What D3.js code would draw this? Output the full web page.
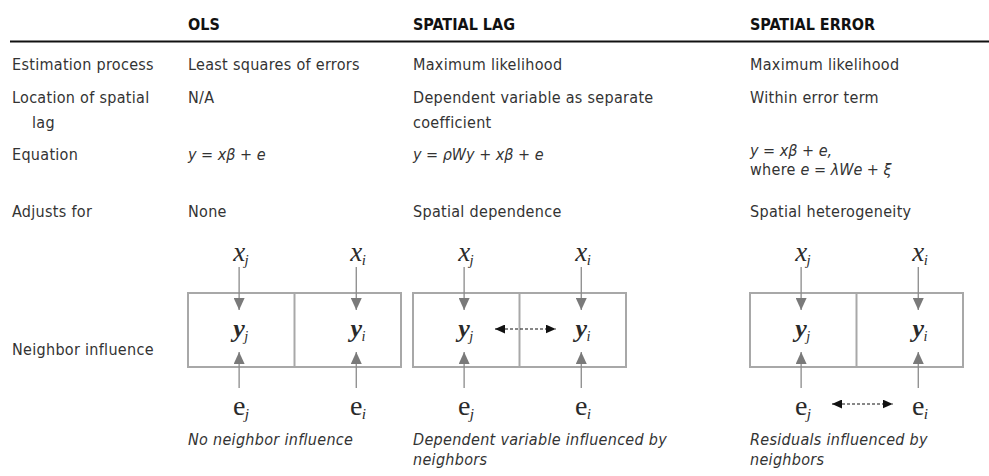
<!DOCTYPE html>
<html>
<head>
<meta charset="utf-8">
<script src="https://cdn.jsdelivr.net/npm/d3@7"></script>
<style>
  body { margin: 0; background: #fff; }
  svg { display: block; }
  .body-text { font-family: "DejaVu Sans Condensed", "DejaVu Sans", sans-serif; font-stretch: condensed; font-size: 16px; fill: #333; letter-spacing: 0.3px; }
  .head { font-family: "DejaVu Sans Condensed", "DejaVu Sans", sans-serif; font-stretch: condensed; font-weight: bold; font-size: 16px; fill: #111; }
  .math { font-family: "Liberation Serif", "DejaVu Serif", serif; font-style: italic; fill: #2a2a2a; }
</style>
</head>
<body>
<div id="chart"></div>
<script>
// table content
const models = ["OLS", "SPATIAL LAG", "SPATIAL ERROR"];
const rowLabels = [["Estimation process"], ["Location of spatial", "lag"], ["Equation"], ["Adjusts for"], ["Neighbor influence"]];
const estimation = ["Least squares of errors", "Maximum likelihood", "Maximum likelihood"];
const lagLocation = [["N/A"], ["Dependent variable as separate", "coefficient"], ["Within error term"]];
// equation lines: each segment [text, italic?]
const equations = [
  [[["y = x\u03B2 + e", true]]],
  [[["y = \u03C1Wy + x\u03B2 + e", true]]],
  [[["y = x\u03B2 + e,", true]], [["where ", false], ["e = \u03BBWe +  \u03BE", true]]]
];
const adjusts = ["None", "Spatial dependence", "Spatial heterogeneity"];
const linked = [null, "y", "e"]; // which pair of neighbours is connected
const captions = [["No neighbor influence"], ["Dependent variable influenced by", "neighbors"], ["Residuals influenced by", "neighbors"]];
const cells = [{ sub: "j" }, { sub: "i" }];

const width = 989, height = 476;

const svg = d3.select("#chart")
  .append("svg")
  .attr("width", width)
  .attr("height", height);

const defs = svg.append("defs");
function marker(id, color, len, wid) {
  defs.append("marker")
    .attr("id", id)
    .attr("markerUnits", "userSpaceOnUse")
    .attr("viewBox", `0 0 ${len} ${wid}`)
    .attr("refX", len)
    .attr("refY", wid / 2)
    .attr("markerWidth", len)
    .attr("markerHeight", wid)
    .attr("orient", "auto-start-reverse")
    .append("path")
    .attr("d", `M0,0L${len},${wid / 2}L0,${wid}Z`)
    .attr("fill", color);
}
marker("grayHead", "#7a7a7a", 12, 11);
marker("blackHead", "#111", 10, 9);

// column / row positions
const colX = d3.scaleOrdinal().domain(models).range([188, 413, 750]);
const labelX = 12;
const rowY = d3.scaleOrdinal()
  .domain(["head", "est", "loc", "eq", "adj", "nb"])
  .range([30, 70, 103, 160, 217, 355]);
const lineH = 25;

// header
svg.append("g")
  .selectAll("text")
  .data(models)
  .join("text")
  .attr("class", "head")
  .attr("x", (d) => colX(d))
  .attr("y", rowY("head"))
  .text((d) => d);

svg.append("line")
  .attr("x1", 10)
  .attr("x2", width)
  .attr("y1", 41.5)
  .attr("y2", 41.5)
  .attr("stroke", "#111")
  .attr("stroke-width", 2);

// multi-line helper
function lines(sel, arr, x, y, lh, indent) {
  arr.forEach((t, i) => {
    sel.append("text")
      .attr("class", "body-text")
      .attr("x", x + (i > 0 ? indent : 0))
      .attr("y", y + i * lh)
      .text(t);
  });
}

// row labels
const labelKeys = ["est", "loc", "eq", "adj", "nb"];
const labels = svg.append("g");
rowLabels.forEach((arr, i) => lines(labels, arr, labelX, rowY(labelKeys[i]), lineH, 20));

// simple rows
const body = svg.append("g");
models.forEach((m, i) => {
  lines(body, [estimation[i]], colX(m), rowY("est"), lineH, 0);
  lines(body, lagLocation[i], colX(m), rowY("loc"), lineH, 0);
  lines(body, [adjusts[i]], colX(m), rowY("adj"), lineH, 0);
});

// equations
models.forEach((m, i) => {
  const eq = equations[i];
  const y0 = eq.length > 1 ? 156 : rowY("eq");
  eq.forEach((line, k) => {
    const t = body.append("text")
      .attr("class", "body-text")
      .attr("x", colX(m))
      .attr("y", y0 + k * 19);
    line.forEach(([s, it]) => {
      t.append("tspan")
        .style("font-style", it ? "italic" : "normal")
        .style("letter-spacing", it ? "0px" : null)
        .text(s);
    });
  });
});

// neighbour influence diagrams
const boxW = 213, boxTop = 293, boxBot = 367;
const arrowPos = [0.24, 0.79];
const yMarks = { x: 261, y: 337, e: 415 };

models.forEach((m, i) => {
  const bx = d3.scaleLinear().domain([0, 1]).range([colX(m), colX(m) + boxW]);
  const g = svg.append("g");

  g.append("rect")
    .attr("x", bx(0))
    .attr("y", boxTop)
    .attr("width", bx(1) - bx(0))
    .attr("height", boxBot - boxTop)
    .attr("fill", "none")
    .attr("stroke", "#a8a8a8")
    .attr("stroke-width", 2);
  g.append("line")
    .attr("x1", bx(0.5)).attr("x2", bx(0.5))
    .attr("y1", boxTop).attr("y2", boxBot)
    .attr("stroke", "#a8a8a8")
    .attr("stroke-width", 2);

  cells.forEach((c, k) => {
    const ax = bx(arrowPos[k]);
    // x -> y arrow
    g.append("line")
      .attr("x1", ax).attr("x2", ax)
      .attr("y1", 267).attr("y2", 310)
      .attr("stroke", "#8a8a8a")
      .attr("stroke-width", 1.3)
      .attr("marker-end", "url(#grayHead)");
    // e -> y arrow
    g.append("line")
      .attr("x1", ax).attr("x2", ax)
      .attr("y1", 388).attr("y2", 352)
      .attr("stroke", "#8a8a8a")
      .attr("stroke-width", 1.3)
      .attr("marker-end", "url(#grayHead)");

    [["x", 27], ["y", 26], ["e", 28]].forEach(([v, fs]) => {
      g.append("text")
        .attr("class", "math")
        .attr("x", ax)
        .attr("y", yMarks[v])
        .attr("text-anchor", "middle")
        .style("font-size", fs + "px")
        .style("font-style", v === "e" ? "normal" : "italic")
        .style("font-weight", v === "y" ? "bold" : "normal")
        .text(v);
      g.append("text")
        .attr("class", "math")
        .attr("x", ax + fs * 0.2)
        .attr("y", yMarks[v] + 4)
        .style("font-size", (fs * 0.55) + "px")
        .text(c.sub);
    });
  });

  if (linked[i]) {
    const ly = linked[i] === "y" ? 329 : 404;
    g.append("line")
      .attr("x1", bx(0.385)).attr("x2", bx(0.67))
      .attr("y1", ly).attr("y2", ly)
      .attr("stroke", "#111")
      .attr("stroke-width", 1.2)
      .attr("stroke-dasharray", "3,2")
      .attr("marker-start", "url(#blackHead)")
      .attr("marker-end", "url(#blackHead)");
  }

  const cap = g.append("g").style("font-style", "italic");
  lines(cap, captions[i], colX(m), 445, 20, 0);
});
</script>
</body>
</html>
